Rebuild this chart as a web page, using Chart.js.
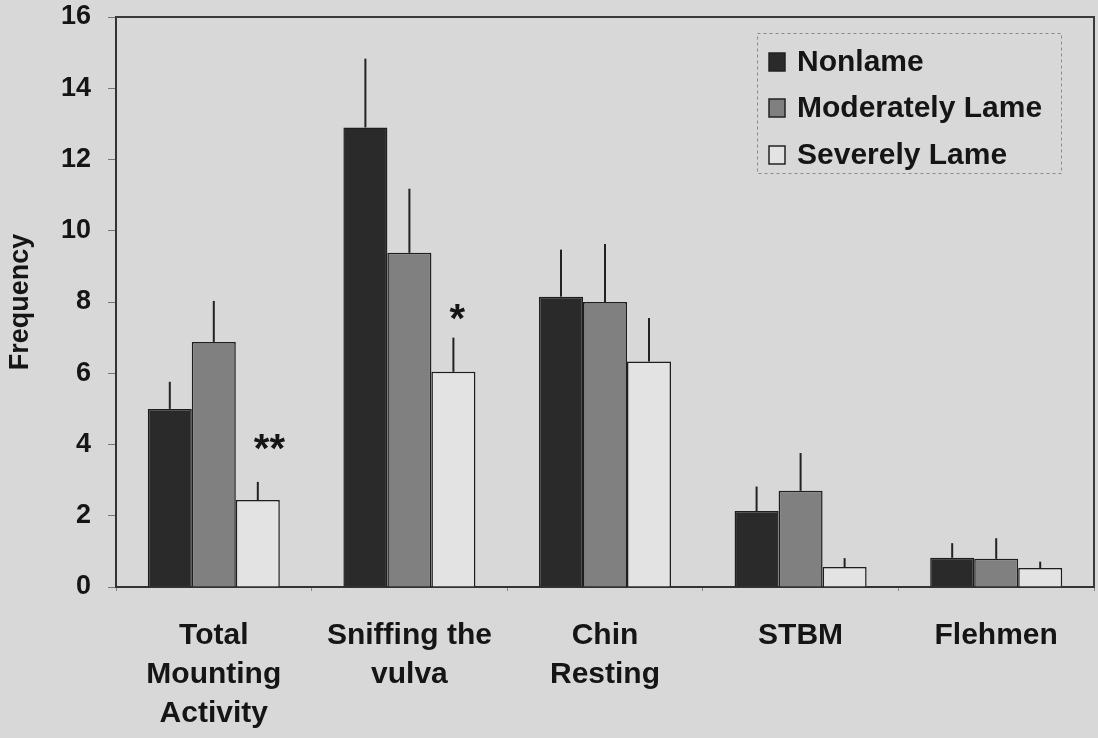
<!DOCTYPE html>
<html>
<head>
<meta charset="utf-8">
<script src="https://cdn.jsdelivr.net/npm/chart.js@4.4.1/dist/chart.umd.min.js"></script>
<style>
  html, body { margin: 0; padding: 0; background: #d8d8d8; }
  #wrap { width: 1098px; height: 738px; }
</style>
</head>
<body>
<div id="wrap"><canvas id="chart" width="1098" height="738"></canvas></div>
<script>
const categories = [["Total", "Mounting", "Activity"], ["Sniffing the", "vulva"], ["Chin", "Resting"], ["STBM"], ["Flehmen"]];
const seriesNames = ["Nonlame", "Moderately Lame", "Severely Lame"];
const nonlame = [5.0, 12.9, 8.15, 2.13, 0.82];
const nonlameErr = [0.76, 1.93, 1.32, 0.69, 0.41];
const moderate = [6.88, 9.38, 8.0, 2.70, 0.79];
const moderateErr = [1.15, 1.80, 1.63, 1.06, 0.58];
const severe = [2.44, 6.04, 6.33, 0.56, 0.53];
const severeErr = [0.51, 0.96, 1.22, 0.25, 0.18];
const sigMarks = ["**", "*", "", "", ""];
const sigLevels = [4.1, 7.75, 0, 0, 0];
const yMin = 0, yMax = 16, yStep = 2;

const FONT = '"Liberation Sans", Arial, sans-serif';
const colors = ['#2a2a2a', '#808080', '#e3e3e3'];
const errs = [nonlameErr, moderateErr, severeErr];

const data = {
    labels: categories,
    datasets: [
        { label: seriesNames[0], data: nonlame, backgroundColor: colors[0] },
        { label: seriesNames[1], data: moderate, backgroundColor: colors[1] },
        { label: seriesNames[2], data: severe, backgroundColor: colors[2] }
    ]
};

// background, frame, error bars, asterisks and the boxed legend
const extras = {
    id: 'extras',
    beforeDraw(chart) {
        const c = chart.ctx;
        c.save();
        c.fillStyle = '#d8d8d8';
        c.fillRect(0, 0, chart.width, chart.height);
        c.restore();
    },
    afterDatasetsDraw(chart) {
        const c = chart.ctx;
        const y = chart.scales.y;
        const a = chart.chartArea;
        c.save();
        // error bars (upper only)
        c.strokeStyle = '#222';
        c.lineWidth = 2;
        chart.data.datasets.forEach((ds, di) => {
            const meta = chart.getDatasetMeta(di);
            meta.data.forEach((bar, i) => {
                const top = y.getPixelForValue(ds.data[i] + errs[di][i]);
                c.beginPath();
                c.moveTo(bar.x, bar.y);
                c.lineTo(bar.x, top);
                c.stroke();
            });
        });
        // significance marks over the severely lame bars
        const sevMeta = chart.getDatasetMeta(2);
        c.fillStyle = '#151515';
        c.font = 'bold 40px ' + FONT;
        c.textAlign = 'left';
        c.textBaseline = 'alphabetic';
        sigMarks.forEach((m, i) => {
            if (!m) return;
            const bar = sevMeta.data[i];
            c.fillText(m, bar.x - 4, y.getPixelForValue(sigLevels[i]) + 21);
        });
        // frame top and right
        c.strokeStyle = '#3a3a3a';
        c.lineWidth = 2;
        c.beginPath();
        c.moveTo(a.left, a.top);
        c.lineTo(a.right, a.top);
        c.lineTo(a.right, a.bottom);
        c.stroke();
        // legend box
        const lx = 757, ly = 33, lw = 304, lh = 140;
        c.strokeStyle = '#8a8a8a';
        c.lineWidth = 1;
        c.setLineDash([3, 3]);
        c.strokeRect(lx + 0.5, ly + 0.5, lw, lh);
        c.setLineDash([]);
        c.font = 'bold 30px ' + FONT;
        c.textBaseline = 'middle';
        const rows = [62, 108, 155];
        seriesNames.forEach((name, i) => {
            c.fillStyle = colors[i];
            c.fillRect(769, rows[i] - 9, 16, 18);
            c.strokeStyle = '#222';
            c.lineWidth = 1.5;
            c.strokeRect(769, rows[i] - 9, 16, 18);
            c.fillStyle = '#151515';
            c.fillText(name, 797, rows[i] + 1);
        });
        c.restore();
    }
};

new Chart(document.getElementById('chart'), {
    type: 'bar',
    data: data,
    plugins: [extras],
    options: {
        responsive: false,
        animation: false,
        devicePixelRatio: 1,
        layout: { padding: { top: 17, right: 4, left: 0, bottom: 0 } },
        datasets: {
            bar: {
                categoryPercentage: 0.675,
                barPercentage: 1.0,
                borderColor: '#1e1e1e',
                borderWidth: 1.5
            }
        },
        plugins: {
            legend: { display: false },
            tooltip: { enabled: false }
        },
        scales: {
            x: {
                afterFit(s) { s.height = 151; },
                grid: { drawOnChartArea: false, tickLength: 4, color: '#888' },
                border: { display: true, color: '#333', width: 2 },
                ticks: {
                    color: '#151515',
                    padding: 25,
                    maxRotation: 0,
                    autoSkip: false,
                    font: { family: FONT, size: 30, weight: 'bold', lineHeight: 1.3 }
                }
            },
            y: {
                min: yMin,
                max: yMax,
                afterFit(s) { s.width = 116; s.paddingTop = 0; s.paddingBottom = 0; },
                grid: { drawOnChartArea: false, tickLength: 8, color: '#777' },
                border: { display: true, color: '#333', width: 2 },
                ticks: {
                    stepSize: yStep,
                    color: '#151515',
                    padding: 17,
                    font: { family: FONT, size: 27, weight: 'bold' }
                },
                title: {
                    display: true,
                    text: 'Frequency',
                    color: '#151515',
                    padding: { top: 4, bottom: 0 },
                    font: { family: FONT, size: 27, weight: 'bold' }
                }
            }
        }
    }
});
</script>
</body>
</html>
